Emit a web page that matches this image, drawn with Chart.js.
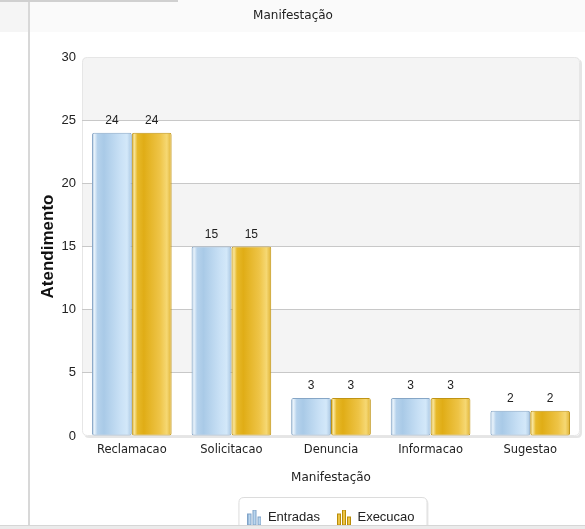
<!DOCTYPE html>
<html><head><meta charset="utf-8">
<script src="https://cdn.jsdelivr.net/npm/chart.js@4/dist/chart.umd.min.js"></script>
<style>
html,body{margin:0;padding:0;background:#fff;overflow:hidden;width:585px;height:529px;}
#wrap{position:relative;width:585px;height:529px;overflow:hidden;}
#hdr{position:absolute;left:30px;top:0;width:555px;height:32px;background:#fafafa;}
#lhdr{position:absolute;left:0;top:0;width:28px;height:32px;background:#f5f5f5;}
#vline{position:absolute;left:28px;top:0;width:2px;height:526px;background:#d8d8d8;}
#tline{position:absolute;left:0;top:0;width:178px;height:2px;background:#d0d0d0;}
#bline{position:absolute;left:0;top:525px;width:585px;height:4px;background:#ebebeb;border-top:1px solid #d6d6d6;}
#c{position:absolute;left:0;top:0;}
</style></head>
<body><div id="wrap">
<div id="hdr"></div><div id="lhdr"></div><div id="vline"></div><div id="tline"></div>
<canvas id="c" width="585" height="534"></canvas>
<div id="bline"></div>
</div>
<script>
const categories = ['Reclamacao','Solicitacao','Denuncia','Informacao','Sugestao'];
const entradas = [24, 15, 3, 3, 2];
const execucao = [24, 15, 3, 3, 2];
const seriesNames = ['Entradas', 'Execucao'];
const yMin = 0, yMax = 30, yStep = 5;
const chartTitle = 'Manifestação';
const xTitle = 'Manifestação';
const yTitle = 'Atendimento';

const blueStops = [[0,'#9dbcd9'],[0.06,'#e9f3fb'],[0.14,'#b5d2ec'],[0.3,'#a9cae7'],[0.7,'#c8e0f5'],[0.88,'#d3e8f9'],[1,'#a8c6e2']];
const goldStops = [[0,'#cf9d0c'],[0.06,'#f9e7a0'],[0.14,'#e7b92a'],[0.3,'#e0ad16'],[0.7,'#eec447'],[0.88,'#f6d873'],[1,'#dfb232']];

function barGrad(stops, dsIndex){
  return (ctx) => {
    const chart = ctx.chart;
    const xs = chart.scales && chart.scales.x;
    if (!chart.chartArea || !xs || ctx.type !== 'data') return stops[3][1];
    const cw = xs.width / categories.length;
    const bw = cw * 0.8 / 2;
    const cx = xs.getPixelForValue(ctx.dataIndex);
    const x0 = dsIndex === 0 ? cx - bw : cx;
    const g = chart.ctx.createLinearGradient(x0, 0, x0 + bw, 0);
    stops.forEach(([o,c]) => g.addColorStop(o,c));
    return g;
  };
}

function makeIcon(fill, light, stroke){
  const c = document.createElement('canvas'); c.width = 14; c.height = 16;
  const g = c.getContext('2d');
  const bars = [[0,4],[5,0],[10,7]];
  bars.forEach(([x,t]) => {
    const gr = g.createLinearGradient(x,0,x+4,0);
    gr.addColorStop(0, fill); gr.addColorStop(0.5, light); gr.addColorStop(1, fill);
    g.fillStyle = gr; g.fillRect(x, t, 4, 16 - t);
    g.strokeStyle = stroke; g.lineWidth = 1; g.strokeRect(x+0.5, t+0.5, 3, 15 - t);
  });
  return c;
}
const icons = [makeIcon('#8db5dc','#c9e1f5','#7fa3c8'), makeIcon('#d9a30e','#f3cf58','#b98c08')];

function rr(ctx, x, y, w, h, r){
  ctx.beginPath();
  ctx.moveTo(x+r, y); ctx.lineTo(x+w-r, y); ctx.quadraticCurveTo(x+w, y, x+w, y+r);
  ctx.lineTo(x+w, y+h-r); ctx.quadraticCurveTo(x+w, y+h, x+w-r, y+h);
  ctx.lineTo(x+r, y+h); ctx.quadraticCurveTo(x, y+h, x, y+h-r);
  ctx.lineTo(x, y+r); ctx.quadraticCurveTo(x, y, x+r, y); ctx.closePath();
}

const bgPlugin = {
  id: 'bg',
  beforeDraw(chart){
    const {ctx, chartArea:{left,right,top,bottom}} = chart;
    const ys = chart.scales.y;
    const w = right - left, h = bottom - top;
    ctx.save();
    rr(ctx, left+2, top+2, w, h, 5); ctx.fillStyle = 'rgba(0,0,0,0.10)'; ctx.fill();
    rr(ctx, left, top, w, h, 5); ctx.fillStyle = '#fff'; ctx.fill();
    ctx.save(); rr(ctx, left, top, w, h, 5); ctx.clip();
    ctx.fillStyle = '#f4f4f4';
    for (let v = yMax; v > yMin; v -= 2*yStep) {
      const y1 = ys.getPixelForValue(v), y2 = ys.getPixelForValue(v - yStep);
      ctx.fillRect(left, y1, w, y2 - y1);
    }
    ctx.restore();
    rr(ctx, left+0.5, top+0.5, w-1, h-1, 5); ctx.strokeStyle = '#e6e6e6'; ctx.lineWidth = 1; ctx.stroke();
    // legend frame
    const lg = chart.legend;
    if (lg && lg.lineWidths) {
      const p = lg.options.labels.padding;
      const lw = lg.lineWidths[0];
      const cx = (lg.left + p + lg.right - lw) / 2;
      const bx = cx - 9, bw = lw - p + 21, by = lg.top + 3, bh = 60;
      rr(ctx, bx+2, by+2, bw, bh, 5); ctx.fillStyle = 'rgba(0,0,0,0.08)'; ctx.fill();
      rr(ctx, bx+0.5, by+0.5, bw, bh, 5); ctx.fillStyle = '#fff'; ctx.fill();
      ctx.strokeStyle = '#dcdcdc'; ctx.stroke();
    }
    ctx.restore();
  }
};

const labelPlugin = {
  id: 'vals',
  afterDatasetsDraw(chart){
    const ctx = chart.ctx;
    ctx.save();
    ctx.font = '12px "Liberation Sans", Arial, sans-serif';
    ctx.fillStyle = '#222'; ctx.textAlign = 'center'; ctx.textBaseline = 'alphabetic';
    chart.data.datasets.forEach((ds, i) => {
      chart.getDatasetMeta(i).data.forEach((el, j) => {
        ctx.fillText(String(ds.data[j]), el.x, el.y - 9);
      });
    });
    ctx.restore();
  }
};

new Chart(document.getElementById('c'), {
  type: 'bar',
  data: {
    labels: categories,
    datasets: [
      {label: seriesNames[0], data: entradas, backgroundColor: barGrad(blueStops, 0), borderColor: '#86a6c6', borderWidth: 1, borderRadius: 2, borderSkipped: false},
      {label: seriesNames[1], data: execucao, backgroundColor: barGrad(goldStops, 1), borderColor: '#c09414', borderWidth: 1, borderRadius: 2, borderSkipped: false}
    ]
  },
  plugins: [bgPlugin, labelPlugin],
  options: {
    responsive: false,
    animation: false,
    events: [],
    layout: {padding: {left: 6, right: 5, top: 0, bottom: 0}},
    datasets: {bar: {categoryPercentage: 0.8, barPercentage: 1.0}},
    plugins: {
      title: {display: true, text: chartTitle, color: '#222', font: {family: 'DejaVu Sans', size: 12, weight: 'normal'}, padding: {top: 8.3, bottom: 34.3}},
      legend: {
        position: 'bottom', fullSize: false,
        labels: {
          usePointStyle: true, pointStyleWidth: 14, padding: 17, color: '#222',
          font: {family: 'Liberation Sans', size: 13},
          generateLabels: (chart) => chart.data.datasets.map((ds, i) => ({
            text: ds.label, pointStyle: icons[i], fillStyle: '#fff', strokeStyle: '#fff', lineWidth: 0, hidden: false, datasetIndex: i, fontColor: '#222'
          }))
        }
      },
      tooltip: {enabled: false}
    },
    scales: {
      x: {
        grid: {display: false, drawTicks: false}, border: {display: false},
        ticks: {padding: 7, color: '#222', font: {family: 'DejaVu Sans', size: 11.5}},
        title: {display: true, text: xTitle, color: '#222', font: {family: 'DejaVu Sans', size: 12}, padding: {top: 4, bottom: 8.8}},
        afterFit(s){ s.height = 58; }
      },
      y: {
        min: yMin, max: yMax,
        ticks: {stepSize: yStep, padding: 6, color: '#222', font: {family: 'Liberation Sans', size: 13}},
        grid: {drawTicks: false, color: (c) => (c.tick && (c.tick.value === yMin || c.tick.value === yMax)) ? 'rgba(0,0,0,0)' : '#c8c8c8'},
        border: {display: false},
        title: {display: true, text: yTitle, color: '#111', font: {family: 'Liberation Sans', size: 17, weight: 'bold'}, padding: {top: 31.8, bottom: 4}},
        afterFit(s){ s.width = 76; }
      }
    }
  }
});
</script>
</body></html>
